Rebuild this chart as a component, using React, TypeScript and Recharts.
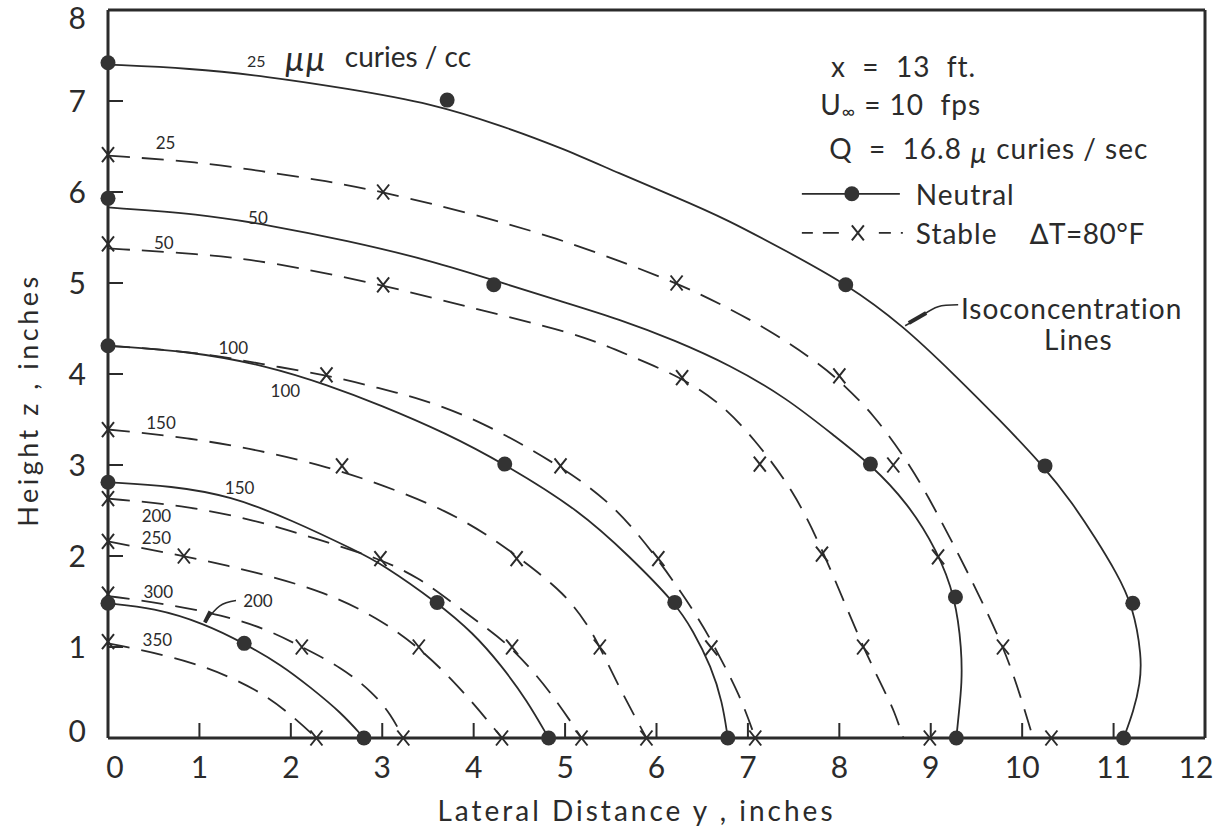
import { ComposedChart, Line, Scatter, XAxis, YAxis, ReferenceDot } from 'recharts'

type Pt = [number, number]

const INK = '#2b2b2b'

const X_TICKS = [0, 1, 2, 3, 4, 5, 6, 7, 8, 9, 10, 11, 12]
const Y_TICKS = [0, 1, 2, 3, 4, 5, 6, 7, 8]

// isoconcentration lines, [lateral distance y, height z] in inches
// neutral (solid)
const neutral25: Pt[] = [
  [0, 7.4], [0.9, 7.36], [1.74, 7.27], [2.6, 7.14], [3.56, 6.97], [4.3, 6.73], [4.95, 6.49],
  [5.6, 6.2], [6.2, 5.95], [6.77, 5.7], [7.42, 5.35], [8.08, 4.99], [8.7, 4.53], [9.25, 4.0],
  [9.75, 3.5], [10.25, 2.97], [10.55, 2.58], [10.8, 2.2], [11.03, 1.82], [11.21, 1.46],
  [11.31, 0.89], [11.29, 0.6], [11.22, 0.3], [11.11, 0]
]
const neutral50: Pt[] = [
  [0, 5.83], [1, 5.76], [1.74, 5.64], [2.6, 5.47], [3.56, 5.24], [4.25, 5.02], [4.95, 4.8],
  [5.6, 4.6], [6.2, 4.37], [6.8, 4.1], [7.42, 3.74], [7.97, 3.3], [8.34, 3.01], [8.75, 2.58],
  [9.07, 2.06], [9.27, 1.55], [9.34, 0.96], [9.34, 0.6], [9.31, 0.3], [9.28, 0]
]
const neutral100: Pt[] = [
  [0, 4.31], [0.9, 4.25], [1.74, 4.09], [2.4, 3.88], [2.98, 3.66], [3.7, 3.35], [4.34, 3.01],
  [5.16, 2.5], [5.71, 1.99], [6.2, 1.49], [6.4, 1.18], [6.6, 0.78], [6.72, 0.4], [6.78, 0]
]
const neutral150: Pt[] = [
  [0, 2.81], [0.7, 2.77], [1.34, 2.66], [2.0, 2.4], [2.73, 2.05], [3.0, 1.91], [3.6, 1.49],
  [4.0, 1.15], [4.3, 0.8], [4.58, 0.42], [4.82, 0]
]
const neutral200: Pt[] = [
  [0, 1.48], [0.5, 1.43], [1.05, 1.26], [1.49, 1.04], [1.9, 0.8], [2.21, 0.56], [2.55, 0.28], [2.8, 0]
]

// stable, dT = 80 F (dashed)
const stable25: Pt[] = [
  [0, 6.4], [1, 6.33], [1.67, 6.23], [2.4, 6.12], [3.01, 6.0], [4, 5.76], [4.95, 5.48],
  [5.6, 5.24], [6.22, 5.0], [6.7, 4.77], [7.24, 4.48], [7.79, 4.11], [8.05, 3.88], [8.37, 3.56],
  [8.72, 3.08], [8.96, 2.68], [9.32, 1.99], [9.61, 1.4], [9.79, 1.0], [9.94, 0.6], [10.12, 0]
]
const stable50: Pt[] = [
  [0, 5.38], [1, 5.32], [1.74, 5.24], [3.01, 4.98], [4, 4.72], [4.98, 4.48], [5.38, 4.34],
  [5.71, 4.2], [6.28, 3.96], [6.7, 3.68], [7.06, 3.3], [7.5, 2.72], [7.8, 2.1], [8.06, 1.48],
  [8.26, 1.0], [8.5, 0.5], [8.6, 0.3], [8.7, 0]
]
const stable100: Pt[] = [
  [0, 4.31], [1, 4.24], [1.67, 4.11], [2.39, 3.99], [2.98, 3.84], [3.42, 3.73], [4.07, 3.49],
  [4.95, 2.99], [5.53, 2.57], [6.02, 1.97], [6.48, 1.29], [6.64, 0.99], [6.91, 0.48], [7.08, 0]
]
const stable150: Pt[] = [
  [0, 3.39], [0.9, 3.3], [1.76, 3.14], [2.4, 2.98], [2.98, 2.79], [3.71, 2.5], [4.25, 2.17],
  [4.6, 1.9], [4.98, 1.6], [5.24, 1.26], [5.38, 1.0], [5.62, 0.5], [5.89, 0]
]
const stable200: Pt[] = [
  [0, 2.63], [0.8, 2.56], [1.6, 2.4], [2.3, 2.18], [2.98, 1.97], [3.4, 1.76], [3.75, 1.5],
  [4.07, 1.26], [4.42, 1.0], [4.85, 0.5], [5.18, 0]
]
const stable250: Pt[] = [
  [0, 2.16], [0.83, 2.0], [1.6, 1.83], [2.39, 1.6], [2.95, 1.32], [3.4, 1.0], [3.85, 0.56], [4.31, 0]
]
const stable300: Pt[] = [
  [0, 1.56], [0.6, 1.48], [1.26, 1.35], [1.75, 1.19], [2.12, 1.0], [2.55, 0.78], [2.9, 0.5], [3.1, 0.25], [3.23, 0]
]
const stable350: Pt[] = [[0, 1.04], [0.94, 0.85], [1.67, 0.52], [2.03, 0.23], [2.28, 0]]

// measured points
const neutralObs: Pt[] = [
  [0, 7.42], [3.71, 7.01], [8.07, 4.98], [10.25, 2.99], [11.21, 1.48], [11.11, 0],
  [0, 5.93], [4.22, 4.98], [8.34, 3.01], [9.27, 1.55], [9.28, 0],
  [0, 4.31], [4.34, 3.01], [6.2, 1.49], [6.78, 0],
  [0, 2.81], [3.6, 1.49], [4.82, 0],
  [0, 1.48], [1.49, 1.04], [2.8, 0]
]
const stableObs: Pt[] = [
  [0, 6.41], [3.01, 6.0], [6.22, 5.0], [8.0, 3.98], [8.59, 3.0], [9.08, 1.99], [9.79, 1.0], [10.32, 0],
  [0, 5.43], [3.01, 4.98], [6.28, 3.96], [7.13, 3.01], [7.81, 2.02], [8.26, 1.0], [8.99, 0],
  [2.39, 3.99], [4.95, 2.99], [6.02, 1.97], [6.6, 0.99], [7.08, 0],
  [0, 3.39], [2.56, 2.99], [4.47, 1.97], [5.38, 1.0], [5.89, 0],
  [0, 2.63], [2.98, 1.97], [4.42, 1.0], [5.18, 0],
  [0, 2.16], [0.83, 2.0], [3.4, 1.0], [4.31, 0],
  [0, 1.58], [2.12, 1.0], [3.23, 0],
  [0, 1.06], [2.28, 0]
]

const NEUTRAL_CURVES = [neutral25, neutral50, neutral100, neutral150, neutral200]
const STABLE_CURVES = [stable25, stable50, stable100, stable150, stable200, stable250, stable300, stable350]

// leaders from labels to curves
const leader200: Pt[] = [[1.4, 1.51], [1.22, 1.45], [1.06, 1.27]]
const leader200Head: Pt[] = [[1.06, 1.27], [1.12, 1.39]]
const leaderIso: Pt[] = [[9.3, 4.76], [9.08, 4.74], [8.9, 4.64], [8.72, 4.53]]
const leaderIsoHead: Pt[] = [[8.76, 4.56], [8.95, 4.67]]

// curve level labels: text, y, z
const LEVEL_LABELS: [string, number, number][] = [
  ['25', 0.63, 6.54], ['50', 1.64, 5.72], ['50', 0.61, 5.45], ['100', 1.37, 4.29],
  ['100', 1.94, 3.82], ['150', 0.58, 3.47], ['150', 1.44, 2.75], ['200', 0.53, 2.44],
  ['250', 0.53, 2.2], ['300', 0.55, 1.61], ['350', 0.54, 1.08], ['200', 1.64, 1.51]
]

// corner tick labels sit a little inside the frame
const X_TICK_NUDGE: Record<number, number> = { 0: 7, 12: -9 }
const Y_TICK_NUDGE: Record<number, number> = { 0: -7, 8: 8 }

const toRows = (pts: Pt[]) => pts.map(([lat, h]) => ({ lat, h }))

const DotMark = (p: any) => <circle cx={p.cx} cy={p.cy} r={7.5} fill="#333" />

const XMark = (p: any) => (
  <path
    d={`M${p.cx - 6},${p.cy - 7.5}L${p.cx + 6},${p.cy + 7.5}M${p.cx + 6},${p.cy - 7.5}L${p.cx - 6},${p.cy + 7.5}`}
    stroke={INK}
    strokeWidth={2}
    fill="none"
  />
)

const XTick = ({ x, y, payload }: any) => (
  <text x={x + (X_TICK_NUDGE[payload.value] ?? 0)} y={y} dy="0.71em" textAnchor="middle" fontSize={30} fill={INK}>
    {payload.value}
  </text>
)

const YTick = ({ x, y, payload }: any) => (
  <text x={x} y={y + (Y_TICK_NUDGE[payload.value] ?? 0)} dy="0.36em" textAnchor="end" fontSize={30} fill={INK}>
    {payload.value}
  </text>
)

const XTitle = ({ viewBox }: any) => (
  <text
    x={viewBox.x + viewBox.width / 2 - 20}
    y={viewBox.y + 83}
    textAnchor="middle"
    fontSize={28}
    letterSpacing={3}
    fill={INK}
  >
    Lateral Distance y , inches
  </text>
)

const YTitle = ({ viewBox }: any) => {
  const cx = viewBox.x + 27
  const cy = viewBox.y + viewBox.height / 2 + 26
  return (
    <text
      x={cx}
      y={cy}
      transform={`rotate(-90 ${cx} ${cy})`}
      textAnchor="middle"
      dominantBaseline="central"
      fontSize={27}
      letterSpacing={3.5}
      fill={INK}
    >
      Height z , inches
    </text>
  )
}

const textLine = (content: any, size = 28) => (p: any) => (
  <text x={p.cx} y={p.cy} fontSize={size} letterSpacing={1} dominantBaseline="central" fill={INK} style={{ whiteSpace: 'pre' }}>
    {content}
  </text>
)

const Header = (p: any) => (
  <text x={p.cx} y={p.cy} fill={INK}>
    <tspan fontSize={16}>25</tspan>
    <tspan fontSize={34} fontStyle="italic" dx={19} dy={4}>µµ</tspan>
    <tspan fontSize={28} dx={19} dy={-4}>curies / cc</tspan>
  </text>
)

const NeutralKey = (p: any) => (
  <g>
    <line x1={p.cx} x2={p.cx + 98} y1={p.cy} y2={p.cy} stroke={INK} strokeWidth={1.8} />
    <circle cx={p.cx + 50} cy={p.cy} r={7.5} fill="#333" />
    <text x={p.cx + 114} y={p.cy} fontSize={28} letterSpacing={1} dominantBaseline="central" fill={INK}>Neutral</text>
  </g>
)

const StableKey = (p: any) => (
  <g>
    <line x1={p.cx} x2={p.cx + 101} y1={p.cy} y2={p.cy} stroke={INK} strokeWidth={1.8} strokeDasharray="11 10 16 0 0 40 12 10" />
    <XMark cx={p.cx + 56} cy={p.cy} />
    <text x={p.cx + 114} y={p.cy} fontSize={28} letterSpacing={1} dominantBaseline="central" fill={INK}>Stable</text>
    <text x={p.cx + 228} y={p.cy} fontSize={28} letterSpacing={0.5} dominantBaseline="central" fill={INK}>∆T=80°F</text>
  </g>
)

export default function App() {
  return (
    <div style={{ position: 'absolute', left: 0, top: 0, background: '#fff' }}>
      <ComposedChart
        width={1215}
        height={832}
        margin={{ top: 0, right: 0, bottom: 0, left: 0 }}
        style={{ fontFamily: 'Lato, "DejaVu Sans", sans-serif' }}
      >
        <XAxis
          dataKey="lat"
          type="number"
          domain={[0, 12]}
          ticks={X_TICKS}
          interval={0}
          height={94}
          tickSize={-15}
          tickMargin={34}
          tick={XTick}
          tickLine={{ stroke: INK, strokeWidth: 2 }}
          axisLine={{ stroke: INK, strokeWidth: 3 }}
          label={{ content: XTitle }}
        />
        <XAxis
          xAxisId="top"
          orientation="top"
          dataKey="lat"
          type="number"
          domain={[0, 12]}
          ticks={X_TICKS}
          interval={0}
          height={10}
          tick={false}
          tickSize={-15}
          allowDataOverflow
          tickLine={{ stroke: INK, strokeWidth: 2 }}
          axisLine={{ stroke: INK, strokeWidth: 3 }}
        />
        <YAxis
          dataKey="h"
          type="number"
          domain={[0, 8]}
          ticks={Y_TICKS}
          interval={0}
          width={108}
          tickSize={-15}
          tickMargin={37}
          tick={YTick}
          tickLine={{ stroke: INK, strokeWidth: 2 }}
          axisLine={{ stroke: INK, strokeWidth: 3 }}
          label={{ content: YTitle }}
        />
        <YAxis
          yAxisId="right"
          orientation="right"
          type="number"
          domain={[0, 8]}
          ticks={Y_TICKS}
          interval={0}
          width={10}
          tick={false}
          tickSize={-15}
          allowDataOverflow
          tickLine={{ stroke: INK, strokeWidth: 2 }}
          axisLine={{ stroke: INK, strokeWidth: 3 }}
        />

        {NEUTRAL_CURVES.map((c, i) => (
          <Line
            key={`n${i}`}
            data={toRows(c)}
            dataKey="h"
            type="basis"
            stroke={INK}
            strokeWidth={1.8}
            dot={false}
            activeDot={false}
            isAnimationActive={false}
          />
        ))}
        {STABLE_CURVES.map((c, i) => (
          <Line
            key={`s${i}`}
            data={toRows(c)}
            dataKey="h"
            type="basis"
            stroke={INK}
            strokeWidth={1.8}
            strokeDasharray="22 12"
            dot={false}
            activeDot={false}
            isAnimationActive={false}
          />
        ))}
        {[leader200, leaderIso].map((c, i) => (
          <Line key={`l${i}`} data={toRows(c)} dataKey="h" type="natural" stroke={INK} strokeWidth={1.5} dot={false} activeDot={false} isAnimationActive={false} />
        ))}
        {[leader200Head, leaderIsoHead].map((c, i) => (
          <Line key={`a${i}`} data={toRows(c)} dataKey="h" type="linear" stroke={INK} strokeWidth={4} dot={false} activeDot={false} isAnimationActive={false} />
        ))}

        <Scatter data={toRows(stableObs)} dataKey="h" shape={XMark} isAnimationActive={false} />
        <Scatter data={toRows(neutralObs)} dataKey="h" shape={DotMark} isAnimationActive={false} />

        {LEVEL_LABELS.map(([t, lat, h], i) => (
          <ReferenceDot
            key={`lab${i}`}
            x={lat}
            y={h}
            r={0}
            ifOverflow="visible"
            shape={(p: any) => (
              <text x={p.cx} y={p.cy} fontSize={17} textAnchor="middle" dominantBaseline="central" fill={INK}>
                {t}
              </text>
            )}
          />
        ))}

        <ReferenceDot x={1.52} y={7.37} r={0} ifOverflow="visible" shape={Header} />
        <ReferenceDot x={7.91} y={7.38} r={0} ifOverflow="visible" shape={textLine('x  =  13  ft.')} />
        <ReferenceDot
          x={7.79}
          y={6.97}
          r={0}
          ifOverflow="visible"
          shape={textLine(
            <>
              <tspan>U</tspan>
              <tspan fontSize={18} dy={7}>∞</tspan>
              <tspan dy={-7}> = 10  fps</tspan>
            </>
          )}
        />
        <ReferenceDot
          x={7.89}
          y={6.48}
          r={0}
          ifOverflow="visible"
          shape={textLine(
            <>
              <tspan>Q  =  16.8 </tspan>
              <tspan fontStyle="italic" dy={4}>µ</tspan>
              <tspan dy={-4}> curies / sec</tspan>
            </>
          )}
        />
        <ReferenceDot x={7.59} y={5.98} r={0} ifOverflow="visible" shape={NeutralKey} />
        <ReferenceDot x={7.59} y={5.55} r={0} ifOverflow="visible" shape={StableKey} />
        <ReferenceDot x={9.33} y={4.73} r={0} ifOverflow="visible" shape={textLine('Isoconcentration')} />
        <ReferenceDot x={10.24} y={4.39} r={0} ifOverflow="visible" shape={textLine('Lines')} />
      </ComposedChart>
    </div>
  )
}
